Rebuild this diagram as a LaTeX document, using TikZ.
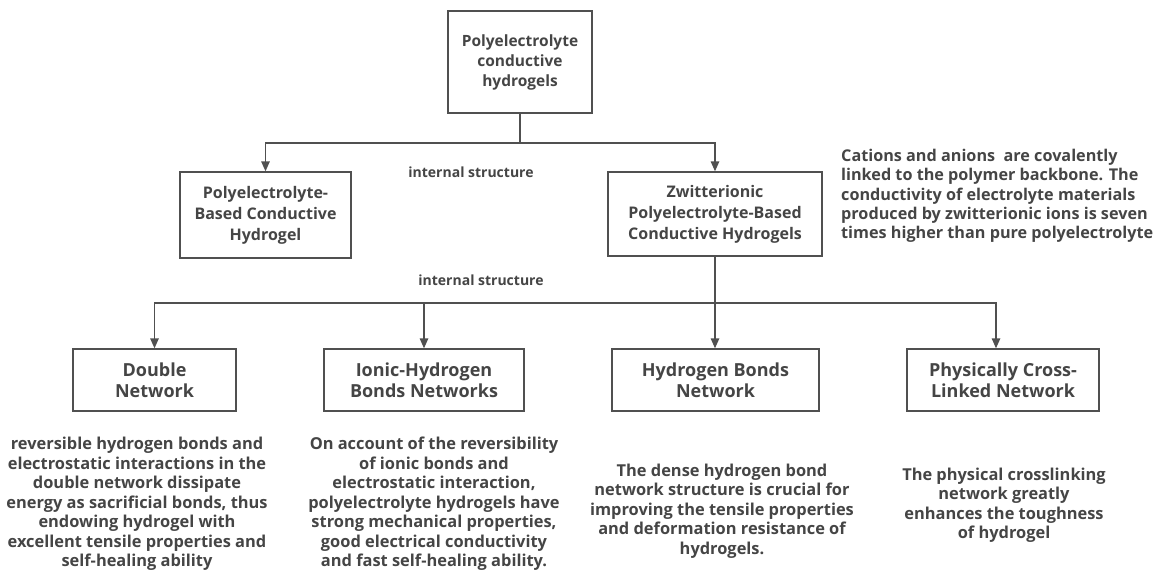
\documentclass[tikz,border=0pt]{standalone}
\usepackage{fontspec}
\setmainfont{Open Sans}
\usetikzlibrary{arrows.meta}
\definecolor{txt}{HTML}{454545}
\definecolor{ln}{HTML}{505050}
\begin{document}
\begin{tikzpicture}[x=1pt,y=-1pt,
  box/.style={draw=ln,line width=1.4pt,inner sep=0pt,align=center,text=txt,
    font=\bfseries\fontsize{16}{21}\selectfont},
  bbox/.style={box,font=\bfseries\fontsize{18}{21.5}\selectfont},
  desc/.style={align=center,text=txt,inner sep=0pt,font=\bfseries\fontsize{16.4}{19.5}\selectfont},
  lbl/.style={text=txt,inner sep=0pt,font=\bfseries\fontsize{14}{16}\selectfont},
  conn/.style={draw=ln,line width=1.4pt},
  arr/.style={conn,-{Triangle[length=10pt,width=8.5pt]}}]
\useasboundingbox[fill=white] (0,0) rectangle (1155,573);

\node[box,minimum width=144pt,minimum height=102pt,font=\bfseries\fontsize{15.5}{20}\selectfont] (top) at (520,62) {Polyelectrolyte\\conductive\\hydrogels};
\node[box,minimum width=171pt,minimum height=86pt] (pbc) at (265.5,215) {Polyelectrolyte-\\Based Conductive\\Hydrogel};
\node[box,minimum width=214pt,minimum height=84pt] (zpb) at (715,214) {Zwitterionic\\Polyelectrolyte-Based\\Conductive Hydrogels};

\node[lbl] (l1) at (471,172) {internal structure};
\node[lbl] (l2) at (481,280) {internal structure};

\node[desc,align=left,anchor=west,font=\bfseries\fontsize{16.2}{19.3}\selectfont] (cat) at (841,196) {Cations and anions\ \ are covalently\\linked to the polymer backbone. The\\conductivity of electrolyte materials\\produced by zwitterionic ions is seven\\times higher than pure polyelectrolyte};

\node[bbox,minimum width=163pt,minimum height=62pt] (dbl) at (154.5,380) {Double\\Network};
\node[bbox,minimum width=200pt,minimum height=62pt] (ion) at (424,380) {Ionic-Hydrogen\\Bonds Networks};
\node[bbox,minimum width=207pt,minimum height=62pt] (hyd) at (715.5,380) {Hydrogen Bonds\\Network};
\node[bbox,minimum width=192pt,minimum height=62pt] (phy) at (1003,380) {Physically Cross-\\Linked Network};

\node[desc] (d1) at (137,504) {reversible hydrogen bonds and\\electrostatic interactions in the\\double network dissipate\\energy as sacrificial bonds, thus\\endowing hydrogel with\\excellent tensile properties and\\self-healing ability};
\node[desc] (d2) at (434,504) {On account of the reversibility\\of ionic bonds and\\electrostatic interaction,\\polyelectrolyte hydrogels have\\strong mechanical properties,\\good electrical conductivity\\and fast self-healing ability.};
\node[desc] (d3) at (722,511) {The dense hydrogen bond\\network structure is crucial for\\improving the tensile properties\\and deformation resistance of\\hydrogels.};
\node[desc] (d4) at (1004,505) {The physical crosslinking\\network greatly\\enhances the toughness\\of hydrogel};

\coordinate (j1) at (520,143);
\coordinate (j2) at (715,303);
\draw[conn] (top.south) -- (j1);
\draw[arr] (j1) -| (pbc.north);
\draw[arr] (j1) -| (zpb.north);
\draw[arr] (zpb.south) -- (zpb.south |- hyd.north);
\draw[arr] (j2) -| (dbl.north);
\draw[arr] (j2) -| (ion.north);
\draw[arr] (j2) -| ([xshift=-7pt]phy.north);
\end{tikzpicture}
\end{document}
